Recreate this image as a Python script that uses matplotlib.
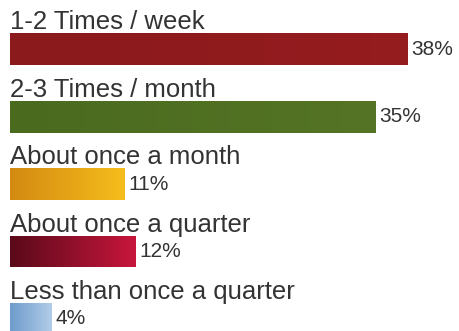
import matplotlib
matplotlib.use('Agg')
import matplotlib.pyplot as plt
import numpy as np
from matplotlib.colors import LinearSegmentedColormap

categories = ['1-2 Times / week', '2-3 Times / month', 'About once a month',
              'About once a quarter', 'Less than once a quarter']
values = [38, 35, 11, 12, 4]
value_labels = ['38%', '35%', '11%', '12%', '4%']

# left / right colour of each bar's gradient
left_colors = ['#8a1a1c', '#4a6a1e', '#d48a12', '#5a0a1a', '#6e9ccc']
right_colors = ['#951c1f', '#557425', '#f5bd1c', '#c8163c', '#b0cce8']

plt.rcParams['font.family'] = ['Liberation Sans', 'DejaVu Sans']

fig = plt.figure(figsize=(4.6, 3.31), dpi=100)
ax = fig.add_axes([0, 0, 1, 1])
ax.set_xlim(-9.5 / 10.45, (460 - 9.5) / 10.45)
ax.set_ylim(4.18, -0.731)
ax.axis('off')

ypos = np.arange(len(values))
h = 0.47
bars = ax.barh(ypos, values, height=h, color='none', edgecolor='none')

grad = np.linspace(0, 1, 256).reshape(1, -1)
for i, b in enumerate(bars):
    cmap = LinearSegmentedColormap.from_list('g%d' % i, [left_colors[i], right_colors[i]])
    x0, y0 = b.get_x(), b.get_y()
    im = ax.imshow(grad, cmap=cmap, aspect='auto', interpolation='bilinear',
                   extent=[x0, x0 + b.get_width(), y0 + h, y0], zorder=2)
    im.set_clip_path(b)

for i, cat in enumerate(categories):
    ax.text(0, ypos[i] - h / 2 - 0.06, cat, fontsize=18.5, color='#333333',
            va='baseline', ha='left')
    ax.annotate(value_labels[i], (values[i], ypos[i]), xytext=(3, 0),
                textcoords='offset points', fontsize=15, color='#333333',
                va='center', ha='left')

ax.set_xlim(-9.5 / 10.45, (460 - 9.5) / 10.45)
ax.set_ylim(4.18, -0.731)
plt.savefig('out.png', dpi=100, facecolor='white')
